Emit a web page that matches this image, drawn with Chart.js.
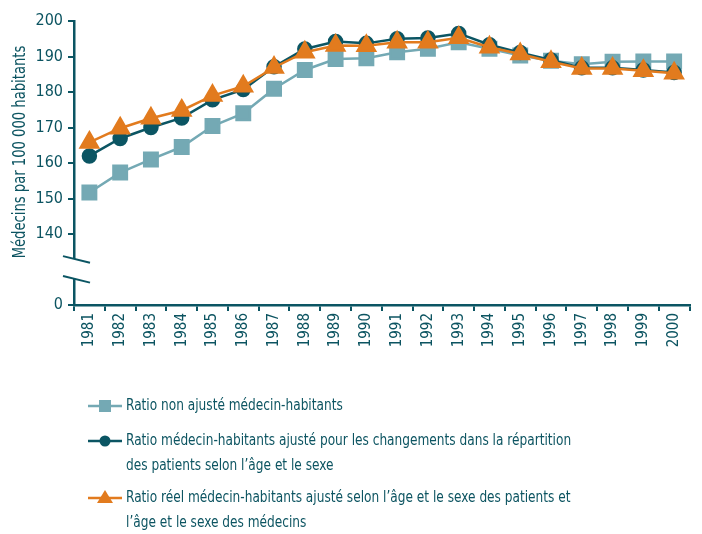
<!DOCTYPE html>
<html>
<head>
<meta charset="utf-8">
<script src="https://cdn.jsdelivr.net/npm/chart.js@4.4.0/dist/chart.umd.min.js"></script>
<style>
html, body { margin: 0; padding: 0; background: #fff; }
#wrap { width: 702px; height: 534px; }
</style>
</head>
<body>
<div id="wrap"><canvas id="myChart" width="702" height="534"></canvas></div>
<script>
var years = ['1981','1982','1983','1984','1985','1986','1987','1988','1989','1990',
             '1991','1992','1993','1994','1995','1996','1997','1998','1999','2000'];
// ratio non ajusté
var nonAjuste = [151.7,157.3,161,164.5,170.4,174,180.9,186.2,189.3,189.5,
                 191.2,192.2,194,192.2,190.3,188.8,187.8,188.5,188.6,188.6];
// ajusté pour les patients
var ajustePatients = [162,166.9,170,172.7,177.8,180.7,187.1,192.1,194.2,193.7,
                      195,195.2,196.5,193.3,191.1,189,186.8,186.8,186.2,185.5];
// ratio réel (patients + médecins)
var reelAjuste = [165.8,169.8,172.6,174.8,179,181.6,186.9,191.2,193.1,193,
                  194,194,195.3,192.6,190.7,188.5,186.6,186.6,186,185.3];
var yTicks = [120,140,150,160,170,180,190,200];// 120 = le "0" sous la coupure
var yTitle = 'Médecins par 100 000 habitants';
var legendLines = [
    ['Ratio non ajusté médecin-habitants'],
    ['Ratio médecin-habitants ajusté pour les changements dans la répartition',
     'des patients selon l\u2019âge et le sexe'],
    ['Ratio réel médecin-habitants ajusté selon l\u2019âge et le sexe des patients et',
     'l\u2019âge et le sexe des médecins']
];

var teal = '#0b5563';
var light = '#74a9b4';
var orange = '#e27b1e';
var txt = '#0c5461';
var fontFam = '"DejaVu Sans Condensed", "Roboto", sans-serif';

var breakPlugin = {
    id: 'breakAxis',
    afterDraw: function(chart){
        var c = chart.ctx;
        var ys = chart.scales.y;
        var x0 = ys.right;
        var y1 = ys.getPixelForValue(133);
        var y2 = ys.getPixelForValue(127.4);
        c.save();
        c.fillStyle = '#fff';
        c.fillRect(x0 - 3, y1, 6, y2 - y1);//trou dans l'axe
        c.strokeStyle = teal;
        c.lineWidth = 2;
        [y1, y2].forEach(function(yy){
            c.beginPath();
            c.moveTo(x0 - 11, yy - 2.7);
            c.lineTo(x0 + 16, yy + 3.9);
            c.stroke();
        });
        // titre vertical, un peu serré
        c.translate(21, 152);
        c.rotate(-Math.PI/2);
        c.scale(0.86, 1);
        c.font = '17px ' + fontFam;
        c.fillStyle = txt;
        c.textAlign = 'center';
        c.textBaseline = 'middle';
        c.fillText(yTitle, 0, 0);
        c.restore();
    }
};

var legendPlugin = {
    id: 'bigLegend',
    afterDraw: function(chart){
        var c = chart.ctx;
        var rows = [406, 441, 498];
        var styles = [
            {col: light, pt: 'rect'},
            {col: teal, pt: 'circle'},
            {col: orange, pt: 'triangle'}
        ];
        c.save();
        c.font = '16px ' + fontFam;
        c.textBaseline = 'middle';
        c.fillStyle = txt;
        for (var i = 0; i < 3; i++){
            var yy = rows[i];
            c.strokeStyle = styles[i].col;
            c.lineWidth = 2.5;
            c.beginPath();
            c.moveTo(88, yy);
            c.lineTo(122, yy);
            c.stroke();
            c.fillStyle = styles[i].col;
            if (styles[i].pt == 'rect'){
                c.fillRect(99, yy - 6, 12, 12);
            } else if (styles[i].pt == 'circle'){
                c.beginPath(); c.arc(105, yy, 5.5, 0, Math.PI*2); c.fill();
            } else {
                c.beginPath(); c.moveTo(105, yy - 8); c.lineTo(113, yy + 5); c.lineTo(97, yy + 5); c.closePath(); c.fill();
            }
            c.fillStyle = txt;
            for (var j = 0; j < legendLines[i].length; j++){
                c.save();
                c.translate(126, yy + j*25);
                c.scale(0.845, 1);
                c.fillText(legendLines[i][j], 0, 0);
                c.restore();
            }
        }
        c.restore();
    }
};

var ctx = document.getElementById('myChart').getContext('2d');
var myChart = new Chart(ctx, {
    type: 'line',
    data: {
        labels: years,
        datasets: [{
            label: legendLines[0].join(' '),
            data: nonAjuste,
            borderColor: light,
            backgroundColor: light,
            borderWidth: 2.5,
            pointStyle: 'rect',
            pointRadius: 9.5,
            lineTension: 0,
            order: 2
        },{
            label: legendLines[1].join(' '),
            data: ajustePatients,
            borderColor: teal,
            backgroundColor: teal,
            borderWidth: 2.5,
            pointStyle: 'circle',
            pointRadius: 6.5,
            lineTension: 0,
            order: 1
        },{
            label: legendLines[2].join(' '),
            data: reelAjuste,
            borderColor: orange,
            backgroundColor: orange,
            borderWidth: 2.5,
            pointStyle: 'triangle',
            pointRadius: 10,
            lineTension: 0,
            order: 0
        }]
    },
    options: {
        responsive: false,
        animation: false,
        clip: false,
        layout: { padding: { top: 21, right: 5, left: 0, bottom: 0 } },
        plugins: {
            legend: { display: false },
            tooltip: { enabled: false }
        },
        scales: {
            x: {
                offset: true,
                afterFit: function(s){ s.height = 534 - 305; },
                grid: { offset: true, drawOnChartArea: false, tickLength: 6, color: teal, lineWidth: 2 },
                border: { color: teal, width: 2.5 },
                ticks: {
                    autoSkip: false,
                    minRotation: 90,
                    maxRotation: 90,
                    padding: 2,
                    color: txt,
                    font: { family: fontFam, size: 15 }
                }
            },
            y: {
                min: 120,
                max: 200,
                afterFit: function(s){ s.width = 74; },
                afterBuildTicks: function(s){
                    s.ticks = yTicks.map(function(v){ return {value: v}; });
                },
                grid: { drawOnChartArea: false, tickLength: 6, color: teal, lineWidth: 2 },
                border: { color: teal, width: 2.5 },
                ticks: {
                    padding: 5,
                    color: txt,
                    font: { family: fontFam, size: 16 },
                    callback: function(v){ return v == 120 ? '0' : v; }
                }
            }
        }
    },
    plugins: [breakPlugin, legendPlugin]
});
</script>
</body>
</html>
